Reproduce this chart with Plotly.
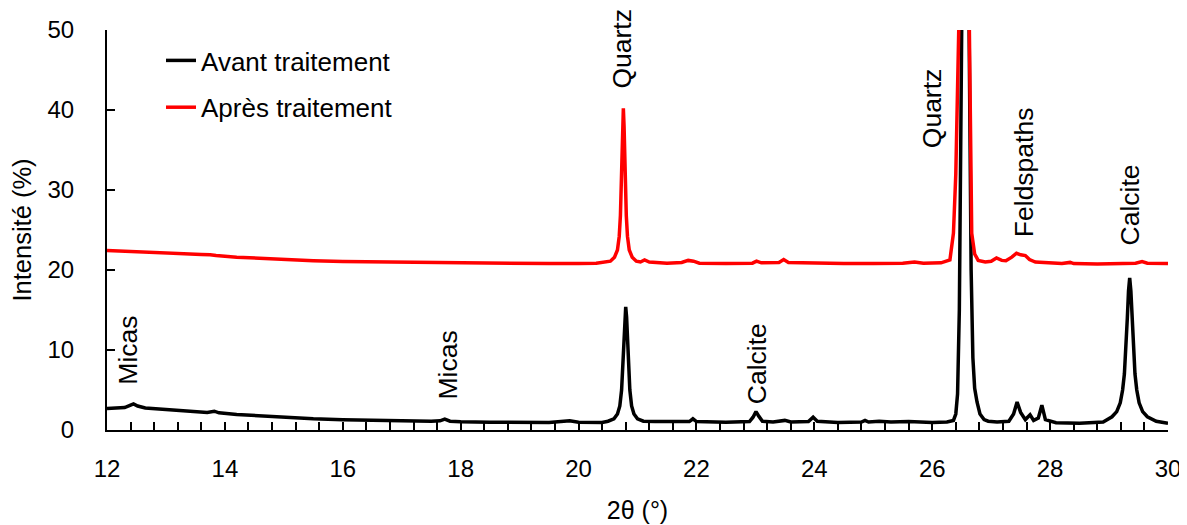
import plotly.graph_objects as go

# 2θ (°) and intensity (%) — Avant traitement (black); rows of x and y are aligned 10 per row
x_avant = [12.00, 12.15, 12.30, 12.40, 12.45, 12.52, 12.65, 13.00, 13.40, 13.70,
           13.82, 13.90, 14.20, 14.60, 15.00, 15.50, 16.00, 16.50, 17.00, 17.50,
           17.65, 17.73, 17.82, 18.00, 18.50, 19.00, 19.50, 19.75, 19.85, 20.00,
           20.40, 20.50, 20.60, 20.66, 20.70, 20.73, 20.753, 20.77, 20.785, 20.80,
           20.815, 20.83, 20.847, 20.87, 20.90, 20.94, 21.00, 21.10, 21.30, 21.60,
           21.88, 21.94, 22.00, 22.50, 22.90, 22.96, 23.01, 23.06, 23.12, 23.30,
           23.45, 23.50, 23.60, 23.90, 23.98, 24.05, 24.40, 24.80, 24.86, 24.92,
           25.10, 25.30, 25.60, 25.75, 26.00, 26.25, 26.36, 26.40, 26.43, 26.46,
           26.48, 26.50, 26.53, 26.56, 26.59, 26.62, 26.64, 26.66, 26.69, 26.72,
           26.76, 26.81, 26.88, 26.95, 27.10, 27.30, 27.38, 27.44, 27.50, 27.58,
           27.66, 27.72, 27.80, 27.86, 27.92, 28.10, 28.50, 28.75, 28.90, 29.05,
           29.13, 29.19, 29.23, 29.26, 29.285, 29.31, 29.33, 29.35, 29.37, 29.39,
           29.415, 29.44, 29.47, 29.51, 29.57, 29.65, 29.80, 30.00]
y_avant = [2.70, 2.75, 2.80, 3.10, 3.25, 3.00, 2.75, 2.55, 2.35, 2.20,
           2.35, 2.15, 1.95, 1.75, 1.55, 1.40, 1.28, 1.20, 1.13, 1.08,
           1.15, 1.35, 1.10, 1.02, 0.97, 0.95, 0.95, 1.10, 1.15, 0.98,
           0.95, 1.10, 1.40, 2.00, 3.00, 5.00, 8.20, 11.4, 14.1, 15.4,
           14.1, 11.4, 8.20, 5.00, 3.00, 2.00, 1.40, 1.10, 1.05, 1.00,
           1.05, 1.40, 1.05, 0.98, 1.05, 1.60, 2.30, 1.70, 1.10, 1.00,
           1.10, 1.20, 1.00, 1.05, 1.60, 1.10, 0.95, 1.00, 1.20, 1.00,
           1.10, 1.00, 1.05, 1.00, 0.95, 1.00, 1.20, 2.00, 4.50, 15.0,
           29.0, 50.0, 84.0, 100.0, 86.0, 55.0, 35.0, 20.0, 9.00, 5.20,
           3.50, 2.00, 1.30, 1.10, 1.00, 1.10, 2.00, 3.50, 2.20, 1.30,
           1.90, 1.20, 1.50, 3.10, 1.30, 0.90, 0.85, 0.90, 1.00, 1.65,
           2.30, 3.40, 5.00, 7.00, 9.90, 14.0, 17.4, 19.0, 17.4, 14.0,
           9.90, 7.00, 5.00, 3.40, 2.30, 1.65, 1.10, 0.85]

# Après traitement (red); rows aligned 10 per row
x_apres = [12.00, 12.40, 12.80, 13.20, 13.60, 13.75, 13.85, 14.20, 14.60, 15.00,
           15.50, 16.00, 16.50, 17.00, 17.50, 18.00, 18.50, 19.00, 19.50, 20.00,
           20.30, 20.54, 20.61, 20.66, 20.69, 20.71, 20.725, 20.736, 20.748, 20.76,
           20.772, 20.784, 20.795, 20.81, 20.83, 20.86, 20.91, 20.98, 21.05, 21.12,
           21.20, 21.50, 21.75, 21.86, 21.95, 22.05, 22.50, 22.95, 23.02, 23.10,
           23.40, 23.48, 23.56, 24.00, 24.50, 25.00, 25.50, 25.70, 25.85, 26.15,
           26.30, 26.36, 26.40, 26.45, 26.49, 26.54, 26.59, 26.63, 26.65, 26.67,
           26.72, 26.78, 26.90, 27.00, 27.09, 27.18, 27.25, 27.35, 27.43, 27.50,
           27.58, 27.65, 27.75, 27.90, 28.20, 28.34, 28.40, 28.80, 29.20, 29.45,
           29.56, 29.65, 30.00]
y_apres = [22.45, 22.35, 22.20, 22.05, 21.95, 21.90, 21.80, 21.60, 21.45, 21.30,
           21.15, 21.05, 21.00, 20.95, 20.90, 20.85, 20.80, 20.80, 20.80, 20.80,
           20.85, 21.10, 21.60, 22.50, 24.20, 26.80, 30.50, 33.50, 38.00, 40.20,
           38.00, 33.50, 30.50, 26.80, 24.20, 22.50, 21.60, 21.10, 21.00, 21.25,
           21.00, 20.85, 20.95, 21.20, 21.10, 20.85, 20.80, 20.85, 21.10, 20.90,
           20.95, 21.30, 20.95, 20.85, 20.80, 20.80, 20.85, 21.00, 20.85, 20.90,
           21.25, 24.60, 32.00, 50.00, 80.00, 100.0, 80.00, 50.00, 35.00, 24.60,
           22.00, 21.20, 21.00, 21.10, 21.50, 21.20, 21.15, 21.60, 22.10, 21.90,
           21.80, 21.30, 21.00, 20.90, 20.80, 20.95, 20.80, 20.75, 20.75, 20.85,
           21.05, 20.85, 20.80]

# Phase labels
label_text = ["Micas", "Micas", "Quartz", "Calcite", "Quartz", "Feldspaths", "Calcite"]
label_x = [12.35, 17.79, 20.74, 23.03, 26.0, 27.56, 29.36]
label_y = [10.0, 8.1, 47.7, 8.25, 40.25, 32.25, 28.1]

FONT = "Liberation Sans, Arial, sans-serif"

fig = go.Figure()
fig.add_trace(go.Scatter(x=x_avant, y=y_avant, mode="lines", name="Avant traitement",
                         line=dict(color="black", width=3.5), legendgroup="a"))
fig.add_trace(go.Scatter(x=x_apres, y=y_apres, mode="lines", name="Après traitement",
                         line=dict(color="#ff0000", width=3.5), legendgroup="b"))

for t, x, y in zip(label_text, label_x, label_y):
    fig.add_annotation(x=x, y=y, text=t, textangle=-90, showarrow=False,
                       font=dict(family=FONT, size=26.5, color="black"),
                       xanchor="center", yanchor="middle")

fig.update_layout(
    width=1187, height=525,
    margin=dict(l=99, r=27, t=22, b=103),
    paper_bgcolor="white", plot_bgcolor="white",
    font=dict(family=FONT, size=24, color="black"),
    showlegend=True,
    legend=dict(x=0.0509, y=0.9825, xanchor="left", yanchor="top",
                bgcolor="rgba(0,0,0,0)", font=dict(family=FONT, size=26),
                traceorder="grouped", tracegroupgap=10),
    xaxis=dict(range=[12, 30], tickmode="array", tickvals=list(range(12, 31, 2)),
               ticks="inside", ticklen=8, tickwidth=1.5, tickcolor="black",
               showline=True, linecolor="black", linewidth=2, showgrid=False,
               zeroline=False, tickfont=dict(size=24), automargin=False,
               ticklabelstandoff=16,
               minor=dict(ticks="inside", dtick=0.4, tick0=12, ticklen=8,
                          tickwidth=1.5, tickcolor="black", showgrid=False),
               title=dict(text="2θ (°)", font=dict(size=25), standoff=21)),
    yaxis=dict(range=[0, 50], tickmode="array", tickvals=[0, 10, 20, 30, 40, 50],
               ticks="inside", ticklen=8, tickwidth=1.5, tickcolor="black",
               showline=True, linecolor="black", linewidth=2, showgrid=False,
               zeroline=False, tickfont=dict(size=24), automargin=False,
               ticklabelstandoff=26,
               title=dict(text="Intensité (%)", font=dict(size=25.5), standoff=10)),
)

fig.write_html("out.html")
